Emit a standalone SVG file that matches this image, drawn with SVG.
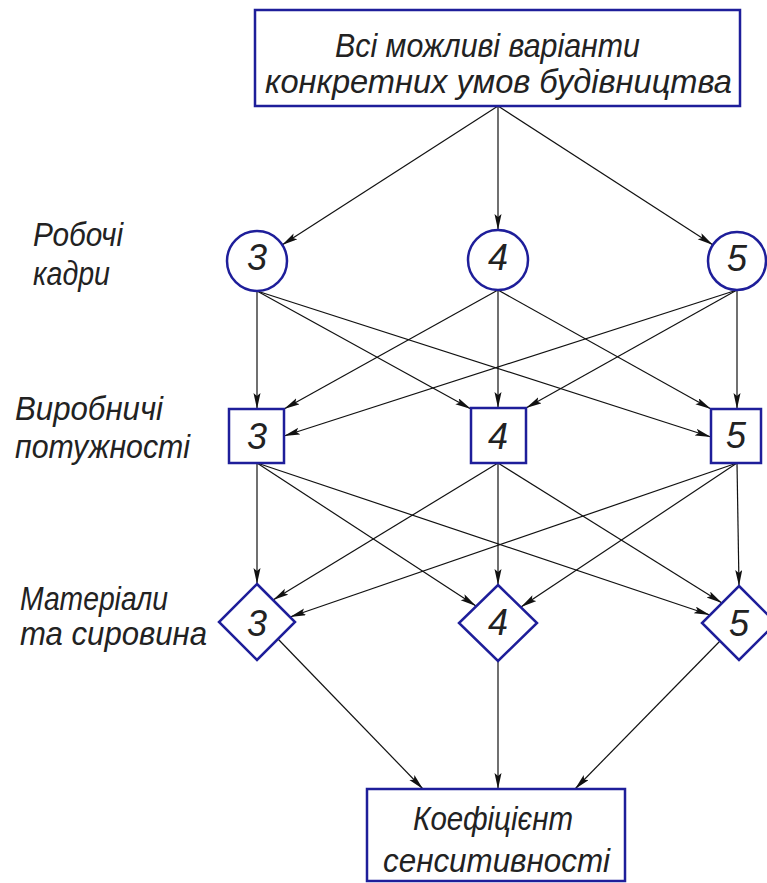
<svg xmlns="http://www.w3.org/2000/svg" width="767" height="883" viewBox="0 0 767 883">
<defs>
<marker id="arr" markerUnits="userSpaceOnUse" markerWidth="18" markerHeight="8" refX="16" refY="3.5" orient="auto">
<path d="M0,0 L16,3.5 L0,7 L3,3.5 z" fill="#111"/>
</marker>
<style>
.n{fill:#fff;stroke:#1e1e9a;stroke-width:2.5}
.t{font-family:"Liberation Sans",Arial,sans-serif;font-style:italic;font-size:34px;fill:#222}
.d{font-family:"Liberation Sans",Arial,sans-serif;font-style:italic;font-size:36px;fill:#222;text-anchor:middle}
.c line{stroke:#111;stroke-width:1.2;marker-end:url(#arr)}
</style>
</defs>
<rect width="767" height="883" fill="#fff"/>
<g class="c" id="connectors">
<line x1="498" y1="106" x2="282" y2="245"/>
<line x1="498" y1="106" x2="498" y2="230"/>
<line x1="498" y1="106" x2="713" y2="245"/>
<line x1="257" y1="291" x2="257" y2="409"/>
<line x1="257" y1="291" x2="471" y2="409"/>
<line x1="257" y1="291" x2="711" y2="437"/>
<line x1="498" y1="290" x2="284" y2="409"/>
<line x1="498" y1="290" x2="498" y2="408"/>
<line x1="498" y1="290" x2="711" y2="409"/>
<line x1="737" y1="290" x2="284" y2="436"/>
<line x1="737" y1="290" x2="526" y2="408"/>
<line x1="737" y1="290" x2="737" y2="409"/>
<line x1="257" y1="463" x2="257" y2="584"/>
<line x1="257" y1="463" x2="476" y2="606"/>
<line x1="257" y1="463" x2="710" y2="615"/>
<line x1="498" y1="463" x2="273" y2="600"/>
<line x1="498" y1="463" x2="498" y2="585"/>
<line x1="498" y1="463" x2="722" y2="603"/>
<line x1="737" y1="463" x2="290" y2="617"/>
<line x1="737" y1="463" x2="521" y2="607"/>
<line x1="737" y1="463" x2="739" y2="586"/>
<line x1="278" y1="639" x2="423" y2="789"/>
<line x1="498" y1="661" x2="498" y2="789"/>
<line x1="720" y1="641" x2="575" y2="789"/>
</g>
<g id="top">
<rect class="n" x="255" y="10" width="485" height="96"/>
<text class="t" x="335" y="57" textLength="305" lengthAdjust="spacingAndGlyphs">Всі можливі варіанти</text>
<text class="t" x="265" y="93" textLength="467" lengthAdjust="spacingAndGlyphs">конкретних умов будівництва</text>
</g>
<g id="label-robochi">
<text class="t" x="33" y="246" textLength="90" lengthAdjust="spacingAndGlyphs">Робочі</text>
<text class="t" x="33" y="285" textLength="77" lengthAdjust="spacingAndGlyphs">кадри</text>
</g>
<g id="label-vyrob">
<text class="t" x="15" y="420" textLength="148" lengthAdjust="spacingAndGlyphs">Виробничі</text>
<text class="t" x="15" y="458" textLength="175" lengthAdjust="spacingAndGlyphs">потужності</text>
</g>
<g id="label-mat">
<text class="t" x="20" y="610" textLength="148" lengthAdjust="spacingAndGlyphs">Матеріали</text>
<text class="t" x="20" y="645" textLength="187" lengthAdjust="spacingAndGlyphs">та сировина</text>
</g>
<g id="c3"><circle class="n" cx="257" cy="261" r="30"/><text class="d" x="257" y="270">3</text></g>
<g id="c4"><circle class="n" cx="498" cy="260" r="30"/><text class="d" x="498" y="270">4</text></g>
<g id="c5"><circle class="n" cx="737" cy="261" r="29"/><text class="d" x="737" y="271">5</text></g>
<g id="s3"><rect class="n" x="229" y="409" width="55" height="54"/><text class="d" x="257" y="449">3</text></g>
<g id="s4"><rect class="n" x="471" y="408" width="55" height="55"/><text class="d" x="498" y="449">4</text></g>
<g id="s5"><rect class="n" x="711" y="409" width="50" height="54"/><text class="d" x="736" y="448">5</text></g>
<g id="d3"><polygon class="n" points="257,584 295,622 257,660 219,622"/><text class="d" x="257" y="636">3</text></g>
<g id="d4"><polygon class="n" points="498,585 537,623 498,661 459,623"/><text class="d" x="498" y="635">4</text></g>
<g id="d5"><polygon class="n" points="739,586 776,623 739,660 702,623"/><text class="d" x="739" y="636">5</text></g>
<g id="bottom">
<rect class="n" x="367" y="789" width="258" height="92"/>
<text class="t" x="413" y="830" textLength="160" lengthAdjust="spacingAndGlyphs">Коефіцієнт</text>
<text class="t" x="383" y="872" textLength="227" lengthAdjust="spacingAndGlyphs">сенситивності</text>
</g>
</svg>
